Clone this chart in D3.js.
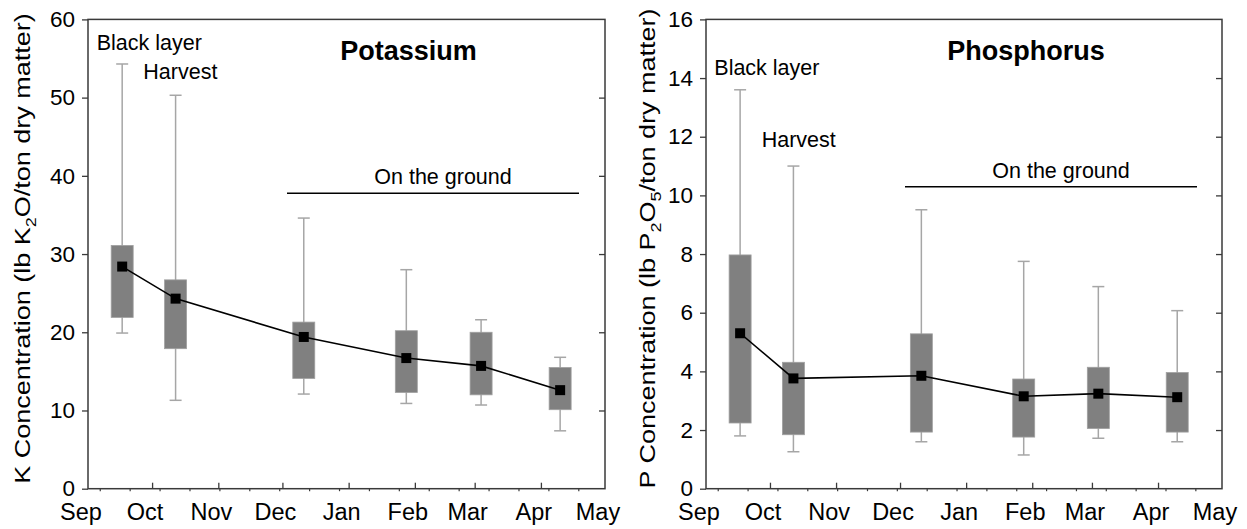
<!DOCTYPE html>
<html>
<head>
<meta charset="utf-8">
<script src="https://cdn.jsdelivr.net/npm/d3@7/dist/d3.min.js"></script>
<style>
  body { margin: 0; background: #fff; }
  svg { display: block; font-family: "Liberation Sans", Arial, sans-serif; }
</style>
</head>
<body>
<svg id="chart" width="1247" height="529"></svg>
<script>
// ---- data ----
const sampleDates = ["2014-09-17", "2014-10-12", "2014-12-11", "2015-01-28", "2015-03-04", "2015-04-10"];
const monthLabels = ["Sep", "Oct", "Nov", "Dec", "Jan", "Feb", "Mar", "Apr", "May"];

const kMin = [19.9, 11.3, 12.1, 10.9, 10.7, 7.4];
const kQ1  = [21.9, 17.9, 14.1, 12.3, 12.0, 10.1];
const kMid = [28.4, 24.3, 19.4, 16.7, 15.7, 12.6];
const kQ3  = [31.1, 26.7, 21.3, 20.2, 20.0, 15.5];
const kMax = [54.3, 50.3, 34.6, 28.0, 21.6, 16.8];
const kTicks = [0, 10, 20, 30, 40, 50, 60];

const pMin = [1.8, 1.26, 1.6, 1.15, 1.72, 1.6];
const pQ1  = [2.24, 1.84, 1.93, 1.76, 2.05, 1.93];
const pMid = [5.3, 3.76, 3.85, 3.15, 3.24, 3.12];
const pQ3  = [7.97, 4.31, 5.28, 3.74, 4.14, 3.96];
const pMax = [13.6, 11.0, 9.51, 7.75, 6.89, 6.07];
const pTicks = [0, 2, 4, 6, 8, 10, 12, 14, 16];

const parse = d3.utcParse("%Y-%m-%d");
const xStart = parse("2014-09-01"), xEnd = parse("2015-05-01");

const svg = d3.select("#chart");
const frameColor = "#3a3a3a";

function panel(opt) {
  const g = svg.append("g");
  const x = d3.scaleUtc().domain([xStart, xEnd]).range([opt.left, opt.right]);
  const y = d3.scaleLinear().domain([0, opt.ymax]).range([488.7, 19.4]);

  const rows = sampleDates.map((d, i) => ({
    date: parse(d), lo: opt.min[i], q1: opt.q1[i], mid: opt.mid[i], q3: opt.q3[i], hi: opt.max[i]
  }));

  // y axis (left, outer ticks)
  const yAxis = d3.axisLeft(y).tickValues(opt.ticks).tickSize(6).tickPadding(7);
  const ya = g.append("g").attr("transform", `translate(${opt.left},0)`).call(yAxis);
  ya.select(".domain").remove();
  ya.selectAll(".tick line").attr("stroke", frameColor).attr("stroke-width", 1.3);
  ya.selectAll(".tick text").attr("font-size", 22.5).attr("fill", "#000")
    .attr("font-family", "Liberation Sans, Arial, sans-serif");

  // right inner ticks
  const yr = g.append("g").attr("transform", `translate(${opt.right},0)`)
    .call(d3.axisLeft(y).tickValues(opt.ticks.slice(1, -1)).tickSize(6).tickFormat(""));
  yr.select(".domain").remove();
  yr.selectAll(".tick line").attr("stroke", frameColor).attr("stroke-width", 1.3);

  // x axis: month ticks (inside), minor ticks (outside)
  const months = d3.utcMonth.range(xStart, d3.utcDay.offset(xEnd, 1));
  const xa = g.append("g").attr("transform", "translate(0,488.7)")
    .call(d3.axisTop(x).tickValues(months.slice(1, -1)).tickSize(6).tickFormat(""));
  xa.select(".domain").remove();
  xa.selectAll(".tick line").attr("stroke", frameColor).attr("stroke-width", 1.3);

  const minor = d3.range(0, 17).map(k => d3.utcHour.offset(xStart, (5.5 + 14 * k) * 24));
  const xm = g.append("g").attr("transform", "translate(0,488.7)")
    .call(d3.axisBottom(x).tickValues(minor).tickSize(2.5).tickFormat(""));
  xm.select(".domain").remove();
  xm.selectAll(".tick line").attr("stroke", frameColor).attr("stroke-width", 1.2);

  g.append("g").selectAll("text").data(months).join("text")
    .attr("x", d => x(d) - 7).attr("y", 520)
    .attr("text-anchor", "middle").attr("font-size", 23.5).attr("fill", "#000")
    .text((d, i) => monthLabels[i]);

  // frame
  g.append("rect").attr("x", opt.left).attr("y", 19.4)
    .attr("width", opt.right - opt.left).attr("height", 488.7 - 19.4)
    .attr("fill", "none").attr("stroke", frameColor).attr("stroke-width", 1.5);

  const bw = 22, cap = 10;
  const bg = g.append("g");
  // whiskers
  bg.selectAll("line.wh").data(rows).join("line").attr("class", "wh")
    .attr("x1", d => x(d.date)).attr("x2", d => x(d.date))
    .attr("y1", d => y(d.lo)).attr("y2", d => y(d.hi))
    .attr("stroke", "#a6a6a6").attr("stroke-width", 1.5);
  bg.selectAll("line.capHi").data(rows).join("line").attr("class", "capHi")
    .attr("x1", d => x(d.date) - cap / 2 - 1).attr("x2", d => x(d.date) + cap / 2 + 1)
    .attr("y1", d => y(d.hi)).attr("y2", d => y(d.hi))
    .attr("stroke", "#a6a6a6").attr("stroke-width", 1.5);
  bg.selectAll("line.capLo").data(rows).join("line").attr("class", "capLo")
    .attr("x1", d => x(d.date) - cap / 2 - 1).attr("x2", d => x(d.date) + cap / 2 + 1)
    .attr("y1", d => y(d.lo)).attr("y2", d => y(d.lo))
    .attr("stroke", "#a6a6a6").attr("stroke-width", 1.5);
  // boxes
  bg.selectAll("rect").data(rows).join("rect")
    .attr("x", d => x(d.date) - bw / 2).attr("width", bw)
    .attr("y", d => y(d.q3)).attr("height", d => y(d.q1) - y(d.q3))
    .attr("fill", "#808080").attr("stroke", "#a0a0a0").attr("stroke-width", 0.8);

  // line + markers
  g.append("path").datum(rows)
    .attr("d", d3.line().x(d => x(d.date)).y(d => y(d.mid)))
    .attr("fill", "none").attr("stroke", "#000").attr("stroke-width", 1.6);
  g.selectAll("rect.mk").data(rows).join("rect").attr("class", "mk")
    .attr("x", d => x(d.date) - 5).attr("y", d => y(d.mid) - 5)
    .attr("width", 10).attr("height", 10).attr("fill", "#000");

  // annotations
  const L = opt.left;
  g.append("text").attr("x", L + opt.black[0]).attr("y", opt.black[1])
    .attr("font-size", 21.5).text("Black layer");
  g.append("text").attr("x", L + opt.harvest[0]).attr("y", opt.harvest[1])
    .attr("font-size", 21.5).text("Harvest");
  g.append("text").attr("x", L + opt.titleX).attr("y", 60).attr("text-anchor", "middle")
    .attr("font-size", 27).attr("font-weight", "bold").text(opt.title);
  g.append("line").attr("x1", L + 199).attr("x2", L + 491)
    .attr("y1", opt.groundY).attr("y2", opt.groundY).attr("stroke", "#000").attr("stroke-width", 1.4);
  g.append("text").attr("x", L + 355).attr("y", opt.groundY - 9).attr("text-anchor", "middle")
    .attr("font-size", 21.5).text("On the ground");

  // y title (stretched along its length to match the reference)
  const yt = g.append("text")
    .attr("transform", `translate(${opt.titleXpos},248.5) rotate(-90) scale(1.2,1)`)
    .attr("text-anchor", "middle").attr("font-size", 22.5);
  opt.ytitle(yt);
}

panel({
  left: 88, right: 605, ymax: 60, ticks: kTicks,
  min: kMin, q1: kQ1, mid: kMid, q3: kQ3, max: kMax,
  black: [8.7, 50], harvest: [55.3, 79], title: "Potassium", titleX: 320.5, groundY: 193.3,
  titleXpos: 29.5,
  ytitle: t => {
    t.append("tspan").text("K Concentration (lb K");
    t.append("tspan").attr("dy", 6).attr("font-size", 15).text("2");
    t.append("tspan").attr("dy", -6).text("O/ton dry matter)");
  }
});

panel({
  left: 706, right: 1222, ymax: 16, ticks: pTicks,
  min: pMin, q1: pQ1, mid: pMid, q3: pQ3, max: pMax,
  black: [8.3, 75], harvest: [55.7, 146.7], title: "Phosphorus", titleX: 320, groundY: 186.7,
  titleXpos: 655,
  ytitle: t => {
    t.append("tspan").text("P Concentration (lb P");
    t.append("tspan").attr("dy", 6).attr("font-size", 15).text("2");
    t.append("tspan").attr("dy", -6).text("O");
    t.append("tspan").attr("dy", 6).attr("font-size", 15).text("5");
    t.append("tspan").attr("dy", -6).text("/ton dry matter)");
  }
});
</script>
</body>
</html>
